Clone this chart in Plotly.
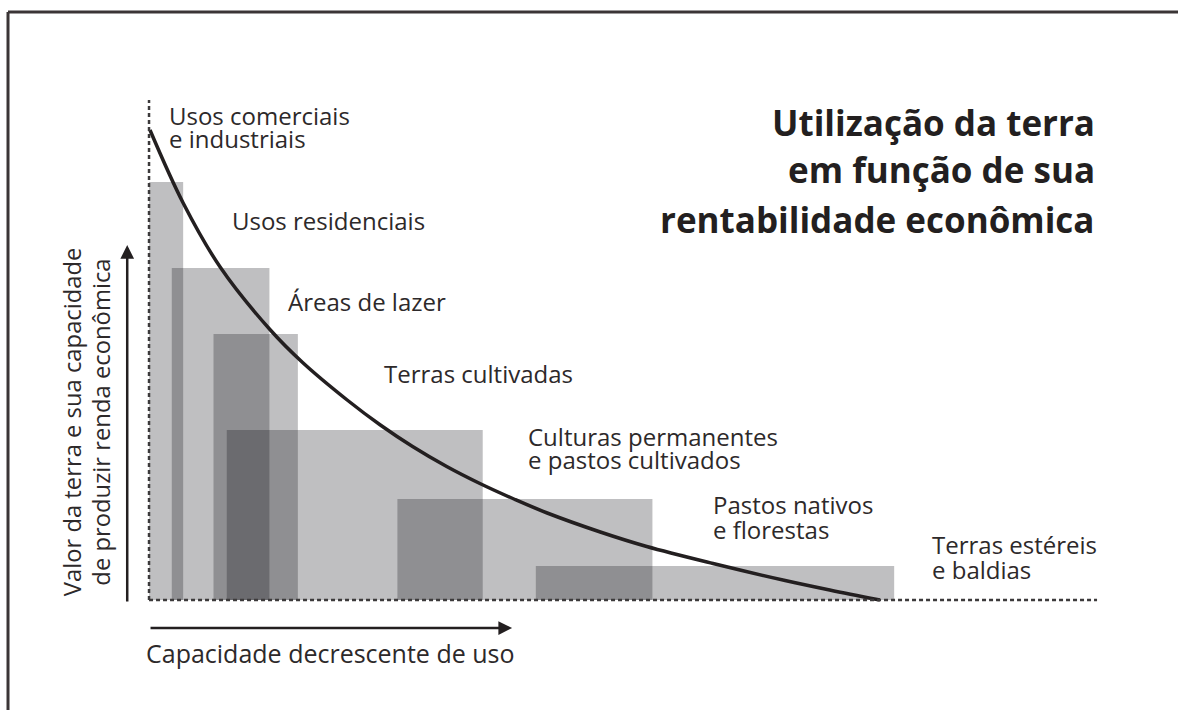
import plotly.graph_objects as go

# ── Colours / fonts ──────────────────────────────────────────────────────────
INK = "#231f20"
TEXT = "#2d292a"
DASH_GREY = "#3c3a3b"
BAND_FILL = "rgba(0,0,8,0.25)"
FONT = "'Open Sans', 'Noto Sans', sans-serif"

# ── Data ─────────────────────────────────────────────────────────────────────
# x: decreasing capacity of use (0-100), y: land value / income capacity (0-100)
band_names = ["Usos comerciais e industriais", "Usos residenciais", "Áreas de lazer",
              "Terras cultivadas", "Culturas permanentes e pastos cultivados",
              "Pastos nativos e florestas"]
band_start = [0.0, 2.4, 6.8, 8.2, 26.2, 40.8]
band_end = [3.6, 12.7, 15.7, 35.2, 53.1, 78.6]
band_value = [83.6, 66.4, 53.2, 34.0, 20.2, 6.8]

curve_x = [0.1, 3.6, 7.5, 12.8, 16.2, 20.9, 24.4, 27.8, 31.4, 34.9, 38.6, 42.0,
           47.6, 52.5, 59.5, 67.1, 71.8, 77.1]
curve_y = [94.0, 79.4, 66.6, 54.0, 47.5, 40.0, 35.0, 30.7, 26.7, 23.3, 20.1, 17.4,
           13.6, 10.7, 7.3, 3.9, 2.0, 0.0]

label_lines = ["Usos comerciais", "e industriais", "Usos residenciais", "Áreas de lazer",
               "Terras cultivadas", "Culturas permanentes", "e pastos cultivados",
               "Pastos nativos", "e florestas", "Terras estéreis", "e baldias"]
title_lines = ["Utilização da terra", "em função de sua", "rentabilidade econômica"]
y_label_lines = ["Valor da terra e sua capacidade", "de produzir renda econômica"]
x_label = "Capacidade decrescente de uso"

# where each label line sits (left edge, vertical middle) in data units
label_pos = [(2.1, 97.0), (2.1, 92.4), (8.7, 75.9), (14.7, 59.7), (24.8, 45.3),
             (40.0, 32.8), (40.0, 28.2), (59.5, 19.2), (59.5, 14.2), (82.6, 11.2),
             (82.6, 6.2)]

fig = go.Figure()

# overlapping translucent bands
fig.add_trace(go.Bar(
    x=band_start, y=band_value,
    width=[e - s for s, e in zip(band_start, band_end)],
    offset=0,
    marker=dict(color=BAND_FILL, line=dict(width=0)),
    hovertext=band_names, hoverinfo="text",
))

# value curve
fig.add_trace(go.Scatter(
    x=curve_x, y=curve_y, mode="lines",
    line=dict(color=INK, width=3.5, shape="spline", smoothing=1),
    hoverinfo="skip",
))

# dashed axes
dash_line = dict(color=DASH_GREY, width=2.5, dash="4px,3px")
fig.add_shape(type="line", x0=0, x1=0, y0=0, y1=100, line=dash_line)
fig.add_shape(type="line", x0=0, x1=100, y0=0, y1=0, line=dash_line)

# frame (top and left edges only)
frame = dict(color="#3b3536", width=3)
fig.add_shape(type="line", xref="paper", yref="paper", x0=0.0068, x1=1.01, y0=0.9831, y1=0.9831, line=frame)
fig.add_shape(type="line", xref="paper", yref="paper", x0=0.0068, x1=0.0068, y0=-0.01, y1=0.9831, line=frame)

label_font = dict(family=FONT, size=24, color=TEXT)

for text, (lx, ly) in zip(label_lines, label_pos):
    fig.add_annotation(x=lx, y=ly, text=text, showarrow=False, xanchor="left", yanchor="middle",
                       borderpad=0, borderwidth=0, font=label_font)

# title, right aligned
for text, ty in zip(title_lines, [95.6, 86.2, 76.2]):
    fig.add_annotation(x=99.8, y=ty, text=text, showarrow=False, xanchor="right", yanchor="middle",
                       borderpad=0, borderwidth=0,
                       font=dict(family=FONT, size=35, color=INK, weight="bold"))

# axis labels
for text, tx in zip(y_label_lines, [-8.1, -5.1]):
    fig.add_annotation(x=tx, y=35.6, text=text, showarrow=False, textangle=-90,
                       xanchor="center", yanchor="middle", borderpad=0, borderwidth=0,
                       font=dict(family=FONT, size=23.8, color=TEXT))
fig.add_annotation(x=-0.3, y=-10.6, text=x_label, showarrow=False, xanchor="left", yanchor="middle",
                   borderpad=0, borderwidth=0, font=dict(family=FONT, size=25, color=TEXT))

# axis arrows
arrow = dict(showarrow=True, text="", axref="x", ayref="y", arrowhead=2, arrowsize=1.1,
             arrowwidth=2.5, arrowcolor=INK, standoff=0, startstandoff=0)
fig.add_annotation(x=-2.3, y=71.0, ax=-2.3, ay=-0.6, **arrow)
fig.add_annotation(x=38.3, y=-5.6, ax=0, ay=-5.6, **arrow)

fig.update_layout(
    width=1178, height=710,
    margin=dict(l=0, r=0, t=0, b=0),
    paper_bgcolor="white", plot_bgcolor="white",
    barmode="overlay", showlegend=False,
    xaxis=dict(range=[-15.72, 108.54], visible=False),
    yaxis=dict(range=[-22, 120], visible=False),
)

fig.write_html("out.html", config={"displayModeBar": False},
               post_script="document.body.style.margin='0';document.body.style.overflow='hidden';")
